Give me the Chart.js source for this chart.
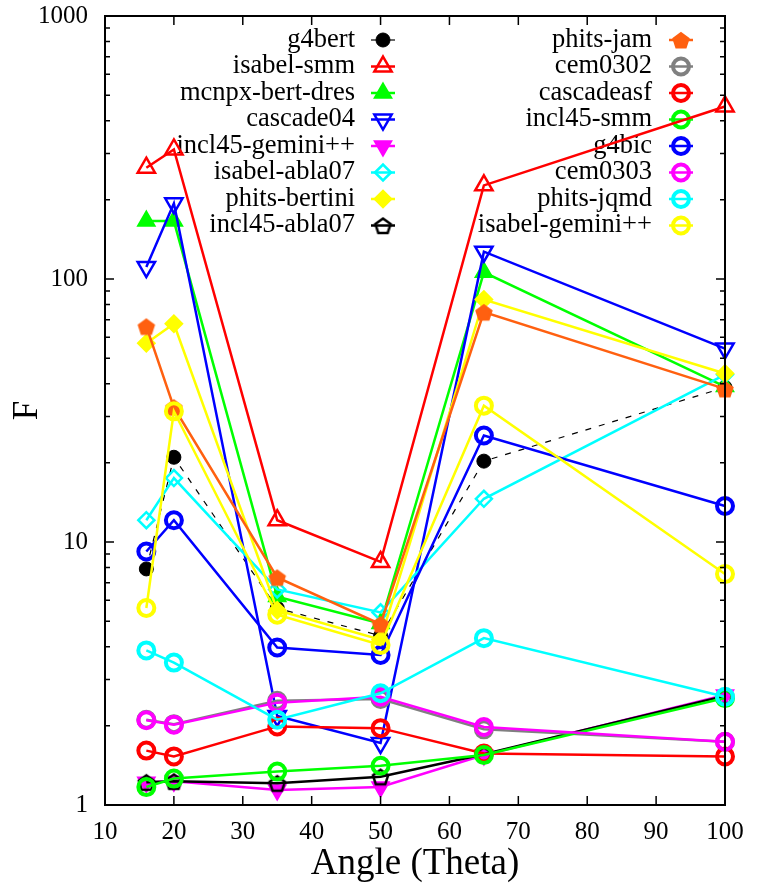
<!DOCTYPE html>
<html>
<head>
<meta charset="utf-8">
<script src="https://cdn.jsdelivr.net/npm/chart.js@4.4.0/dist/chart.umd.min.js"></script>
<style>
  html, body { margin: 0; padding: 0; background: #fff; }
</style>
</head>
<body>
<canvas id="myChart" width="763" height="894"></canvas>
<script>
// angles (x) shared by every model
const angles = [16, 20, 35, 50, 65, 100];
const xTicks = [10, 20, 30, 40, 50, 60, 70, 80, 90, 100];
const yTicks = [1, 10, 100, 1000];
const yTickLabels = ['1', '10', '100', '1000'];

// left legend column
const g4bert        = [7.9, 21, 5.6, 4.4, 20.3, 38.7];
const isabelSmm     = [265, 311, 12.1, 8.4, 227, 453];
const mcnpxBertDres = [166, 166, 6.2, 4.9, 106, 39];
const cascade04     = [111, 194, 2.18, 1.72, 127, 54.4];
const incl45Gemini  = [1.22, 1.23, 1.14, 1.17, 1.55, 2.62];
const isabelAbla07  = [12.1, 17.5, 6.6, 5.4, 14.6, 43.3];
const phitsBertini  = [57, 67.6, 5.5, 4.25, 83.6, 43.7];
const incl45Abla07  = [1.22, 1.23, 1.21, 1.28, 1.56, 2.6];
// right legend column
const phitsJam      = [66, 32.5, 7.33, 4.87, 74.8, 38.2];
const cem0302       = [2.11, 2.03, 2.49, 2.53, 1.94, 1.74];
const cascadeasf    = [1.61, 1.53, 1.99, 1.96, 1.57, 1.53];
const incl45Smm     = [1.17, 1.26, 1.34, 1.41, 1.55, 2.55];
const g4bic         = [9.2, 12.1, 3.97, 3.72, 25.4, 13.7];
const cem0303       = [2.1, 2.02, 2.45, 2.58, 1.98, 1.74];
const phitsJqmd     = [3.87, 3.48, 2.11, 2.66, 4.31, 2.58];
const isabelGemini  = [5.61, 31.4, 5.29, 4.06, 33, 7.55];

const SERIF = '"Liberation Serif", "DejaVu Serif", serif';

function pentagon(color, filled, r, lw) {
    const c = document.createElement('canvas');
    const s = Math.ceil(2 * r + 2 * lw + 2);
    c.width = s; c.height = s;
    const g = c.getContext('2d');
    g.beginPath();
    for (let k = 0; k < 5; k++) {
        const a = -Math.PI / 2 + k * 2 * Math.PI / 5;
        const px = s / 2 + r * Math.cos(a), py = s / 2 + r * Math.sin(a) + 1;
        if (k === 0) g.moveTo(px, py); else g.lineTo(px, py);
    }
    g.closePath();
    g.lineWidth = lw;
    g.strokeStyle = color;
    if (filled) { g.fillStyle = color; g.fill(); }
    g.stroke();
    return c;
}

function serie(label, values, color, style) {
    const st = style || {};
    return {
        label: label,
        data: angles.map((a, i) => ({x: a, y: values[i]})),
        borderColor: color,
        backgroundColor: color,
        borderWidth: st.lw || 2.5,
        borderDash: st.dash || [],
        pointStyle: st.ps || 'circle',
        pointRadius: st.r || 8,
        pointRotation: st.rot || 0,
        pointBorderColor: color,
        pointBackgroundColor: st.open ? 'rgba(255,255,255,0)' : color,
        pointBorderWidth: st.pbw || 2.5,
        pointHoverRadius: st.r || 8,
        clip: false,
        tension: 0
    };
}

const ORANGE = '#ff6010';
const ring = {ps: 'circle', r: 8, open: true, pbw: 4};

const datasets = [
    serie('g4bert', g4bert, '#000000', {ps: 'circle', r: 7, lw: 1.2, dash: [6, 8], pbw: 1}),
    serie('isabel-smm', isabelSmm, '#ff0000', {ps: 'triangle', r: 10, open: true}),
    serie('mcnpx-bert-dres', mcnpxBertDres, '#00ff00', {ps: 'triangle', r: 9}),
    serie('cascade04', cascade04, '#0000ff', {ps: 'triangle', r: 10, rot: 180, open: true}),
    serie('incl45-gemini++', incl45Gemini, '#ff00ff', {ps: 'triangle', r: 9, rot: 180}),
    serie('isabel-abla07', isabelAbla07, '#00ffff', {ps: 'rectRot', r: 8, open: true}),
    serie('phits-bertini', phitsBertini, '#ffff00', {ps: 'rectRot', r: 8}),
    serie('incl45-abla07', incl45Abla07, '#000000', {ps: pentagon('#000000', false, 8, 2.5), r: 8}),
    serie('phits-jam', phitsJam, ORANGE, {ps: pentagon(ORANGE, true, 8, 2), r: 8}),
    serie('cem0302', cem0302, '#808080', ring),
    serie('cascadeasf', cascadeasf, '#ff0000', ring),
    serie('incl45-smm', incl45Smm, '#00ff00', ring),
    serie('g4bic', g4bic, '#0000ff', ring),
    serie('cem0303', cem0303, '#ff00ff', ring),
    serie('phits-jqmd', phitsJqmd, '#00ffff', ring),
    serie('isabel-gemini++', isabelGemini, '#ffff00', ring)
];
// later series on top, like the original plot
datasets.forEach((d, i) => { d.order = datasets.length - i; });

const legendPlugin = {
    id: 'keyBox',
    beforeDatasetsDraw(chart) {
        const ctx = chart.ctx;
        ctx.save();
        ctx.font = '26.5px ' + SERIF;
        ctx.textAlign = 'right';
        ctx.textBaseline = 'middle';
        chart.data.datasets.forEach((ds, i) => {
            const col = i < 8 ? 0 : 1;
            const y = 40 + (i % 8) * 26.5;
            const tx = col ? 652 : 355;
            const mx = col ? 681 : 383;
            ctx.fillStyle = '#000';
            ctx.fillText(ds.label, tx, y);
            ctx.strokeStyle = ds.borderColor;
            ctx.lineWidth = ds.borderWidth;
            ctx.setLineDash([]);
            ctx.beginPath();
            ctx.moveTo(mx - 12, y);
            ctx.lineTo(mx + 12, y);
            ctx.stroke();
            ctx.fillStyle = ds.pointBackgroundColor;
            ctx.strokeStyle = ds.pointBorderColor;
            ctx.lineWidth = ds.pointBorderWidth;
            Chart.helpers.drawPoint(ctx, {
                pointStyle: ds.pointStyle,
                radius: ds.pointRadius,
                rotation: ds.pointRotation,
                borderWidth: ds.pointBorderWidth
            }, mx, y);
        });
        ctx.restore();
    }
};

const framePlugin = {
    id: 'frameTicks',
    afterDatasetsDraw(chart) {
        const ctx = chart.ctx;
        const a = chart.chartArea;
        const xs = chart.scales.x, ys = chart.scales.y;
        ctx.save();
        ctx.strokeStyle = '#000';
        ctx.lineWidth = 1.5;
        ctx.beginPath();
        xTicks.forEach(v => {
            const px = xs.getPixelForValue(v);
            ctx.moveTo(px, a.bottom); ctx.lineTo(px, a.bottom - 9);
            ctx.moveTo(px, a.top); ctx.lineTo(px, a.top + 9);
        });
        for (let d = 1; d < 1000; d *= 10) {
            for (let m = 1; m <= 9; m++) {
                const v = d * m;
                const py = ys.getPixelForValue(v);
                const len = m === 1 ? 9 : 5;
                ctx.moveTo(a.left, py); ctx.lineTo(a.left + len, py);
                ctx.moveTo(a.right, py); ctx.lineTo(a.right - len, py);
            }
        }
        ctx.stroke();
        ctx.lineWidth = 2;
        ctx.strokeRect(a.left, a.top, a.right - a.left, a.bottom - a.top);
        ctx.restore();
    }
};

const ctx = document.getElementById('myChart').getContext('2d');
const myChart = new Chart(ctx, {
    type: 'line',
    data: { datasets: datasets },
    plugins: [legendPlugin, framePlugin],
    options: {
        responsive: false,
        animation: false,
        devicePixelRatio: 1,
        layout: { padding: { top: 16, right: 38, left: 0, bottom: 0 } },
        plugins: { legend: { display: false }, tooltip: { enabled: false } },
        scales: {
            x: {
                type: 'linear',
                min: 10,
                max: 100,
                afterFit: s => { s.height = 89; s.paddingLeft = 0; s.paddingRight = 0; },
                afterBuildTicks: s => { s.ticks = xTicks.map(v => ({value: v})); },
                grid: { display: false, drawTicks: false },
                border: { display: false },
                ticks: { color: '#000', padding: 12, font: { family: SERIF, size: 25 } },
                title: {
                    display: true,
                    text: 'Angle (Theta)',
                    color: '#000',
                    padding: { top: 0, bottom: 8 },
                    font: { family: SERIF, size: 37 }
                }
            },
            y: {
                type: 'logarithmic',
                min: 1,
                max: 1000,
                afterFit: s => { s.width = 105; s.paddingTop = 0; s.paddingBottom = 0; },
                afterBuildTicks: s => { s.ticks = yTicks.map(v => ({value: v})); },
                grid: { display: false, drawTicks: false },
                border: { display: false },
                ticks: {
                    color: '#000',
                    padding: 17,
                    font: { family: SERIF, size: 25 },
                    callback: (v) => { const k = yTicks.indexOf(v); return k >= 0 ? yTickLabels[k] : ''; }
                },
                title: {
                    display: true,
                    text: 'F',
                    color: '#000',
                    padding: { top: 7, bottom: 0 },
                    font: { family: SERIF, size: 35 }
                }
            }
        }
    }
});
</script>
</body>
</html>
